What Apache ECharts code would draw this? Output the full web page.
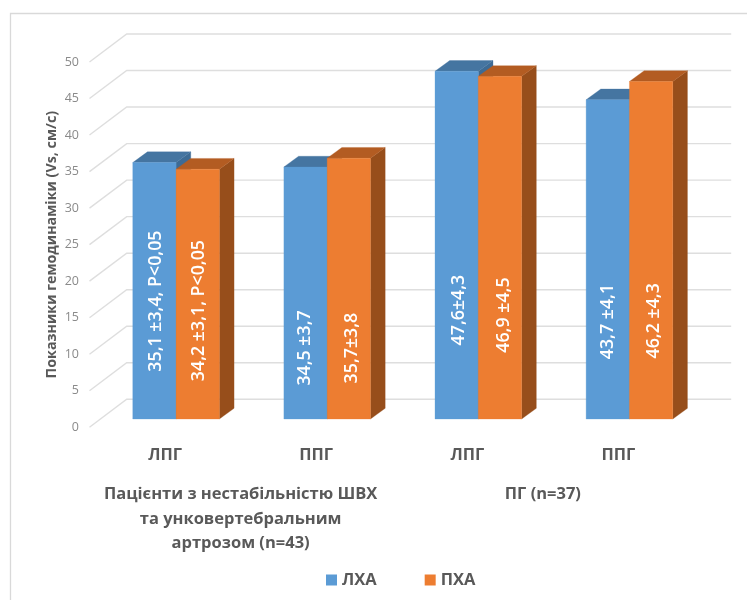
<!DOCTYPE html>
<html>
<head>
<meta charset="utf-8">
<style>html,body{margin:0;padding:0;background:#fff}#chart{width:747px;height:600px}</style>
<script src="https://cdn.jsdelivr.net/npm/echarts@6/dist/echarts.min.js"></script>
</head>
<body>
<div id="chart"></div>
<script>
// Haemodynamic values by subgroup
const categories = ['ЛПГ', 'ППГ', 'ЛПГ', 'ППГ'];
const groupLabels = ['Пацієнти з нестабільністю ШВХ\nта унковертебральним\nартрозом (n=43)', 'ПГ (n=37)'];
const seriesNames = ['ЛХА', 'ПХА'];
const lhaValues = [35.1, 34.5, 47.6, 43.7];
const phaValues = [34.2, 35.7, 46.9, 46.2];
const lhaLabels = ['35,1 ±3,4, P<0,05', '34,5 ±3,7', '47,6±4,3', '43,7 ±4,1'];
const phaLabels = ['34,2 ±3,1, P<0,05', '35,7±3,8', '46,9 ±4,5', '46,2 ±4,3'];
const yTicks = [0, 5, 10, 15, 20, 25, 30, 35, 40, 45, 50];
const yAxisTitle = 'Показники гемодинаміки (Vs, см/с)';

// Pseudo-3D layout, in pixels
const WALL_DX = 37.2, WALL_DY = -28;
const BAR_DX = 11, BAR_DY = -8.3;
const DEPTH_DX = 14.7, DEPTH_DY = -10.7;
const BAR_WIDTH = 43.3;
const lhaLabelShift = [[1.4, 10.3], [-1, 55], [2.3, 65], [0.4, 62.2]];
const phaLabelShift = [[1.6, 16.5], [3, 59.5], [3.7, 67.4], [2.7, 70.6]];

const blue = { front: '#5B9BD5', top: '#4575A1', side: '#3D6B95' };
const orange = { front: '#ED7D31', top: '#B35C22', side: '#974E1B' };
const TEXT = '#595959';
const FONT = '"Open Sans", sans-serif';

function poly(points, fill) {
  return { type: 'polygon', shape: { points }, style: { fill, stroke: fill, lineWidth: 0.3 } };
}

// One extruded bar; side 0 sits left of the band centre, side 1 right of it
function barRenderer(colors, side, labels, shifts) {
  return function (params, api) {
    const i = api.value(0);
    const base = api.coord([i, 0]);
    const peak = api.coord([i, api.value(1)]);
    const x0 = base[0] + BAR_DX + (side === 0 ? -BAR_WIDTH : 0);
    const x1 = x0 + BAR_WIDTH;
    const y0 = base[1] + BAR_DY;
    const y1 = peak[1] + BAR_DY;
    const dx = DEPTH_DX, dy = DEPTH_DY;
    const shift = shifts[params.dataIndex];
    return {
      type: 'group',
      children: [
        poly([[x1, y1], [x1 + dx, y1 + dy], [x1 + dx, y0 + dy], [x1, y0]], colors.side),
        poly([[x0, y1], [x0 + dx, y1 + dy], [x1 + dx, y1 + dy], [x1, y1]], colors.top),
        poly([[x0, y1], [x1, y1], [x1, y0], [x0, y0]], colors.front),
        {
          type: 'text',
          x: (x0 + x1) / 2 + shift[0],
          y: (y0 + y1) / 2 + shift[1],
          rotation: Math.PI / 2,
          style: {
            text: labels[params.dataIndex],
            fill: '#fff',
            font: '600 17.8px ' + FONT,
            align: 'center',
            verticalAlign: 'middle'
          }
        }
      ]
    };
  };
}

// Back wall line for one tick, running in from the front-left corner
function wallRenderer(params, api) {
  const cs = params.coordSys;
  const y = api.coord([0, api.value(1)])[1];
  return {
    type: 'polyline',
    shape: {
      points: [
        [cs.x, y],
        [cs.x + WALL_DX, y + WALL_DY],
        [cs.x + cs.width + WALL_DX, y + WALL_DY]
      ]
    },
    style: { fill: null, stroke: '#DEDEDE', lineWidth: 1.4 }
  };
}

const chart = echarts.init(document.getElementById('chart'), null, { renderer: 'canvas' });
chart.setOption({
  animation: false,
  backgroundColor: '#fff',
  textStyle: { fontFamily: FONT },
  graphic: [{
    type: 'polyline',
    silent: true,
    shape: { points: [[10.5, 600], [10.5, 13.5], [747, 13.5]] },
    style: { fill: null, stroke: '#D9D9D9', lineWidth: 1.3 }
  }],
  grid: { left: 89.5, right: 53, top: 62, bottom: 172.7, outerBoundsMode: 'none' },
  legend: {
    data: seriesNames,
    left: 326,
    top: 571.5,
    padding: 0,
    icon: 'rect',
    itemWidth: 11,
    itemHeight: 11,
    itemGap: 48,
    selectedMode: false,
    textStyle: { color: TEXT, fontWeight: 'bold', fontSize: 16.5, fontFamily: FONT }
  },
  xAxis: [
    {
      type: 'category',
      data: categories,
      axisLine: { show: false },
      axisTick: { show: false },
      axisLabel: { interval: 0, margin: 19, color: TEXT, fontWeight: 'bold', fontSize: 16.5, fontFamily: FONT }
    },
    {
      type: 'category',
      position: 'bottom',
      offset: 55,
      data: groupLabels,
      axisLine: { show: false },
      axisTick: { show: false },
      axisLabel: { interval: 0, margin: 0, lineHeight: 24.5, color: TEXT, fontWeight: 'bold', fontSize: 16.5, fontFamily: FONT, verticalAlign: 'top' }
    }
  ],
  yAxis: {
    type: 'value',
    min: 0,
    max: 50,
    interval: 5,
    name: yAxisTitle,
    nameLocation: 'middle',
    nameGap: 31,
    nameMoveOverlap: false,
    nameTextStyle: { color: TEXT, fontWeight: 'bold', fontSize: 14.3, fontFamily: FONT },
    axisLine: { show: false },
    axisTick: { show: false },
    splitLine: { show: false },
    axisLabel: { margin: 10.5, color: '#8A8A8A', fontSize: 12.5, fontFamily: FONT }
  },
  series: [
    {
      type: 'custom',
      name: 'wall',
      silent: true,
      clip: false,
      xAxisIndex: 0,
      renderItem: wallRenderer,
      encode: { x: 0, y: 1 },
      data: yTicks.map(v => [0, v])
    },
    {
      type: 'custom',
      name: seriesNames[0],
      clip: false,
      xAxisIndex: 0,
      itemStyle: { color: blue.front },
      renderItem: barRenderer(blue, 0, lhaLabels, lhaLabelShift),
      encode: { x: 0, y: 1 },
      data: lhaValues.map((v, i) => [i, v])
    },
    {
      type: 'custom',
      name: seriesNames[1],
      clip: false,
      xAxisIndex: 0,
      itemStyle: { color: orange.front },
      renderItem: barRenderer(orange, 1, phaLabels, phaLabelShift),
      encode: { x: 0, y: 1 },
      data: phaValues.map((v, i) => [i, v])
    }
  ]
});
</script>
</body>
</html>
